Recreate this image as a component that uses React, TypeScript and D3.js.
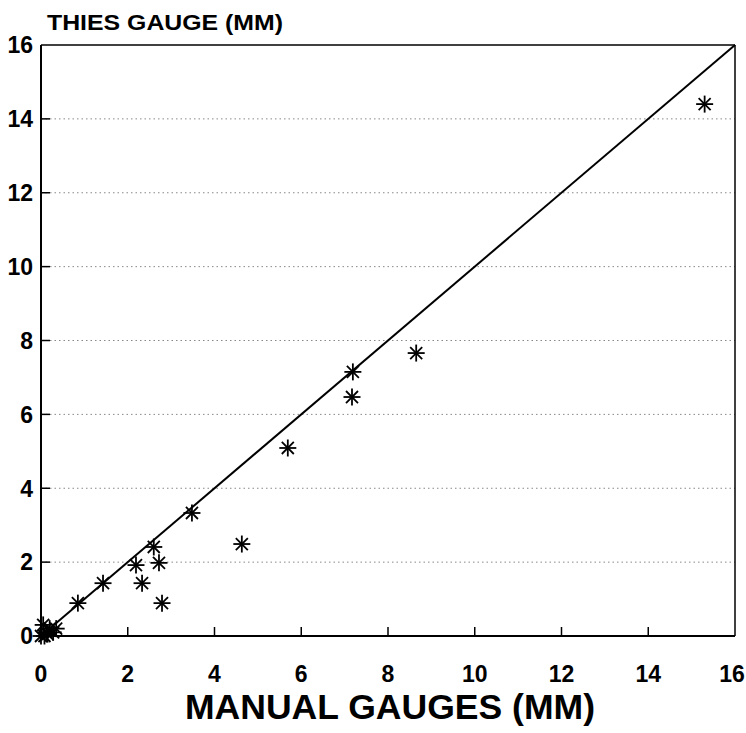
import React from "react";
import * as d3 from "d3";

// manual gauge vs Thies gauge (mm)
const manual = [15.3, 7.19, 7.17, 8.65, 5.69, 3.48, 4.63, 2.6, 2.19, 2.72, 2.33, 2.79, 1.43, 0.85, 0.0, 0.05, 0.12, 0.2, 0.28, 0.15, 0.35, 0.08];
const thies = [14.4, 7.15, 6.47, 7.66, 5.09, 3.33, 2.49, 2.41, 1.92, 1.98, 1.43, 0.89, 1.43, 0.89, 0.0, 0.3, 0.1, 0.2, 0.1, 0.05, 0.2, 0.0];
const ticks = [0, 2, 4, 6, 8, 10, 12, 14, 16];
const gridTicks = [2, 4, 6, 8, 10, 12, 14];
const xTitle = "MANUAL GAUGES (MM)";
const yTitle = "THIES GAUGE (MM)";

const W = 746;
const H = 733;
const font = "'Liberation Sans', Arial, sans-serif";

export default function App() {
  const x = d3.scaleLinear().domain([0, 16]).range([41, 735]);
  const y = d3.scaleLinear().domain([0, 16]).range([636, 45]);

  const line = d3.line<number>()
    .x((d) => x(d))
    .y((d) => y(d));

  const r = 8.5;
  const star = (cx: number, cy: number, i: number) => {
    const arms = [0, 45, 90, 135].map((a) => {
      const rad = (a * Math.PI) / 180;
      const dx = Math.cos(rad) * r;
      const dy = Math.sin(rad) * r;
      return <line key={a} x1={cx - dx} y1={cy - dy} x2={cx + dx} y2={cy + dy} />;
    });
    return <g key={i} stroke="#000" strokeWidth={1.8}>{arms}</g>;
  };

  return (
    <svg width={W} height={H} style={{ position: "absolute", left: 0, top: 0, background: "#fff" }}>
      {/* dotted grid */}
      {gridTicks.map((t) => (
        <line key={"g" + t} x1={x(0)} x2={x(16)} y1={y(t)} y2={y(t)}
          stroke="#888" strokeWidth={1} strokeDasharray="1.5,3" />
      ))}
      {/* frame */}
      <line x1={x(0)} x2={x(16)} y1={y(16)} y2={y(16)} stroke="#000" strokeWidth={1.5} />
      <line x1={x(16)} x2={x(16)} y1={y(16)} y2={y(0)} stroke="#000" strokeWidth={1.5} />
      <line x1={x(0)} x2={x(16)} y1={y(0)} y2={y(0)} stroke="#000" strokeWidth={2} />
      <line x1={x(0)} x2={x(0)} y1={y(16)} y2={y(0)} stroke="#000" strokeWidth={2} />
      {/* inward ticks */}
      {ticks.slice(1, -1).map((t) => (
        <g key={"t" + t} stroke="#000" strokeWidth={1.5}>
          <line x1={x(t)} x2={x(t)} y1={y(0)} y2={y(0) - 9} />
          <line x1={x(0)} x2={x(0) + 9} y1={y(t)} y2={y(t)} />
        </g>
      ))}
      {/* 1:1 line */}
      <path d={line([0, 16]) || ""} fill="none" stroke="#000" strokeWidth={2} />
      {/* points */}
      {manual.map((m, i) => star(x(m), y(thies[i]), i))}
      {/* tick labels */}
      {ticks.map((t) => (
        <text key={"xl" + t} x={Math.min(x(t), W - 14)} y={y(0) + 46} textAnchor="middle"
          fontFamily={font} fontWeight="bold" fontSize={23}>{t}</text>
      ))}
      {ticks.map((t) => (
        <text key={"yl" + t} x={33} y={y(t)} dy="0.36em" textAnchor="end"
          fontFamily={font} fontWeight="bold" fontSize={23}>{t}</text>
      ))}
      {/* titles */}
      <text x={47} y={30} fontFamily={font} fontWeight="bold" fontSize={22}
        textLength={236} lengthAdjust="spacingAndGlyphs">{yTitle}</text>
      <text x={185} y={719} fontFamily={font} fontWeight="bold" fontSize={35}
        textLength={410} lengthAdjust="spacingAndGlyphs">{xTitle}</text>
    </svg>
  );
}
